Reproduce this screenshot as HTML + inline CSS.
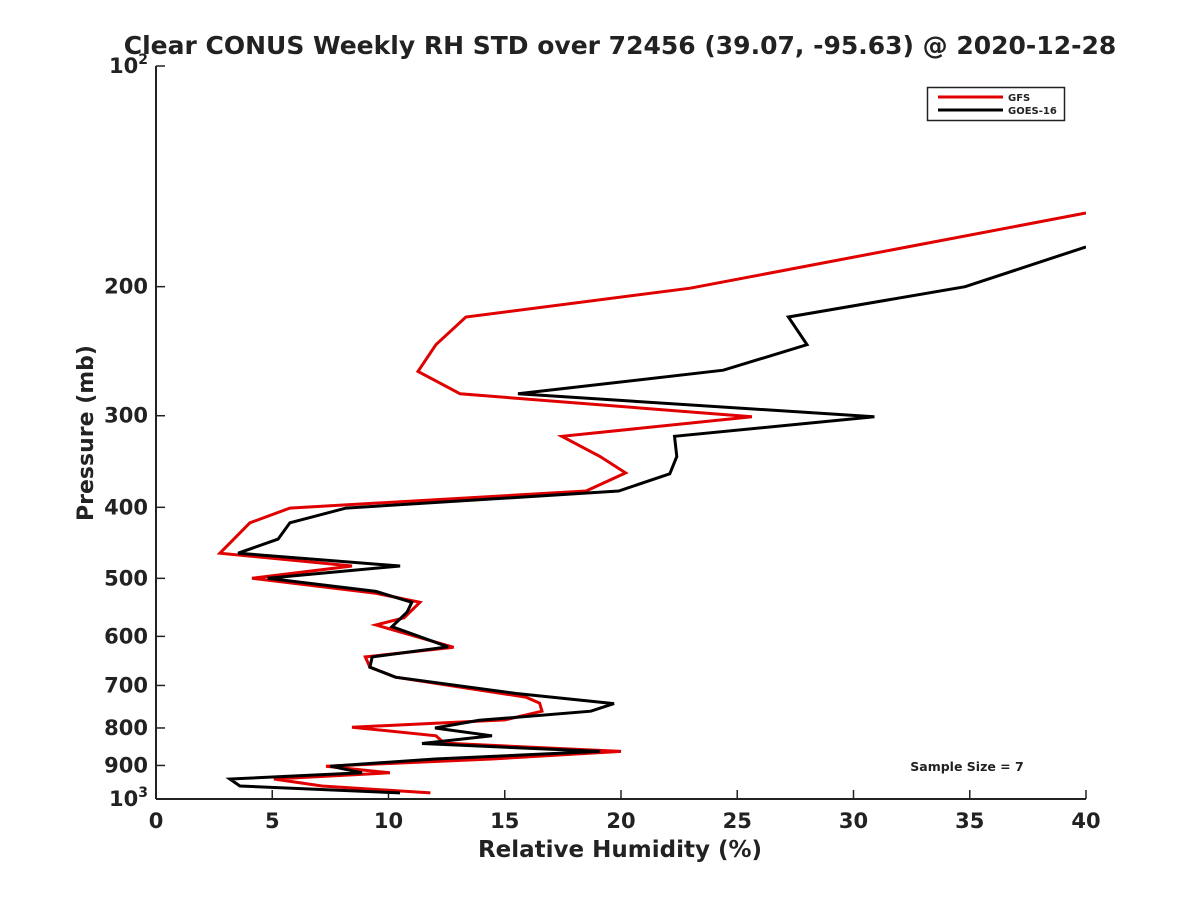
<!DOCTYPE html>
<html><head><meta charset="utf-8"><style>
html,body{margin:0;padding:0;background:#fff;}
svg text{font-family:"DejaVu Sans","Liberation Sans",sans-serif;font-weight:bold;fill:#222;}
</style></head><body>
<svg id="chart" width="1200" height="900" viewBox="0 0 1200 900" xmlns="http://www.w3.org/2000/svg">
<defs><clipPath id="clip"><rect x="156" y="66" width="930" height="733"/></clipPath></defs>
<text x="620" y="54" text-anchor="middle" font-size="25">Clear CONUS Weekly RH STD over 72456 (39.07, -95.63) @ 2020-12-28</text>
<g id="axes"></g>
<g id="series" clip-path="url(#clip)"></g>
<text x="620" y="857" text-anchor="middle" font-size="23">Relative Humidity (%)</text>
<text transform="translate(93,433) rotate(-90)" text-anchor="middle" font-size="22">Pressure (mb)</text>
<g>
<rect x="927.5" y="87.5" width="137" height="33" fill="#fff" stroke="#222" stroke-width="1.5"/>
<line x1="938" y1="97" x2="1003" y2="97" stroke="#e00000" stroke-width="3"/>
<text x="1008" y="101" font-size="10">GFS</text>
<line x1="938" y1="110" x2="1003" y2="110" stroke="#000" stroke-width="3"/>
<text x="1008" y="114" font-size="10">GOES-16</text>
</g>
<text x="967" y="771" text-anchor="middle" font-size="12.5">Sample Size = 7</text>
</svg>
<script>
const xTicks = [0,5,10,15,20,25,30,35,40];
const yTicks = [200,300,400,500,600,700,800,900];
const gfsRH = [40,22.97,13.33,12.04,11.27,13.08,25.63,17.46,19.1,20.2,18.5,5.76,4.04,2.75,8.43,4.13,9.46,11.35,10.67,9.46,12.8,9.0,9.2,10.3,15.9,16.5,16.6,15.0,8.43,12.04,12.4,20.0,14.45,7.31,10.06,5.07,7.14,11.8];
const gfsP = [158.7,201,220,240,261,280,301,320,341,359,380,401,420,462,481,500,524,539,566,579,621,640,661,682,726,740,759,780,798,820,839,861,882,902,921,939,960,981];
const goesRH = [40,34.8,27.2,28.0,24.4,15.57,30.9,22.3,22.4,22.1,19.9,8.17,5.76,5.25,3.53,10.5,4.8,9.46,11.0,10.8,10.15,12.56,9.3,9.2,10.3,15.5,19.7,18.7,13.9,12.0,14.45,11.44,19.1,12.0,7.5,8.86,3.18,3.61,10.5];
const goesP = [176.5,200,220,240,260,280,301,320,341,360,380,401,420,442,462,481,500,521,539,556,582,620,640,661,682,718,741,759,781,800,820,840,861,882,902,921,939,960,981];

const X0=156,X1=1086,Y0=66,Y1=799;
const xs = v => X0 + (v/40)*(X1-X0);
const ys = p => Y0 + (Math.log10(p)-2)*(Y1-Y0);
const NS='http://www.w3.org/2000/svg';
const axes=document.getElementById('axes');
function mk(tag,attrs,parent){const e=document.createElementNS(NS,tag);for(const k in attrs)e.setAttribute(k,attrs[k]);parent.appendChild(e);return e;}

const xa=mk('line',{x1:X0,y1:Y1,x2:X1,y2:Y1,stroke:'#222','stroke-width':2},axes);


const ya=mk('line',{x1:X0,y1:Y0,x2:X0,y2:Y1,stroke:'#222','stroke-width':2},axes);



xTicks.forEach(v=>{
  const x=xs(v);
  const t=mk('line',{x1:x,y1:Y1,x2:x,y2:Y1-9,stroke:'#222','stroke-width':1.5},axes);
  
  
  const l=mk('text',{x:x,y:Y1+29,'text-anchor':'middle','font-size':21},axes);
  
  
  l.textContent=v;
});
yTicks.forEach(p=>{
  const y=ys(p);
  const t=mk('line',{x1:X0,y1:y,x2:X0+9,y2:y,stroke:'#222','stroke-width':1.5},axes);
  
  
  const l=mk('text',{x:X0-8,y:y+7,'text-anchor':'end','font-size':21},axes);
  
  
  l.textContent=p;
});
[[100,'2'],[1000,'3']].forEach(([p,e])=>{
  const y=ys(p);
  const t=mk('line',{x1:X0,y1:y,x2:X0+9,y2:y,stroke:'#222','stroke-width':1.5},axes);
  
  
  const l=mk('text',{x:X0-8,y:y+7,'text-anchor':'end','font-size':21},axes);
  
  
  l.innerHTML='10<tspan font-size="14" dy="-9">'+e+'</tspan>';
});

const sg=document.getElementById('series');
function draw(rh,p,color,name){
  const pts=rh.map((v,i)=>xs(v).toFixed(1)+','+ys(p[i]).toFixed(1)).join(' ');
  const pl=mk('polyline',{points:pts,fill:'none',stroke:color,'stroke-width':3,'stroke-linejoin':'miter'},sg);
  
  
}
draw(gfsRH,gfsP,'#e00000','gfs-line');
draw(goesRH,goesP,'#000000','goes16-line');
</script>
</body></html>
